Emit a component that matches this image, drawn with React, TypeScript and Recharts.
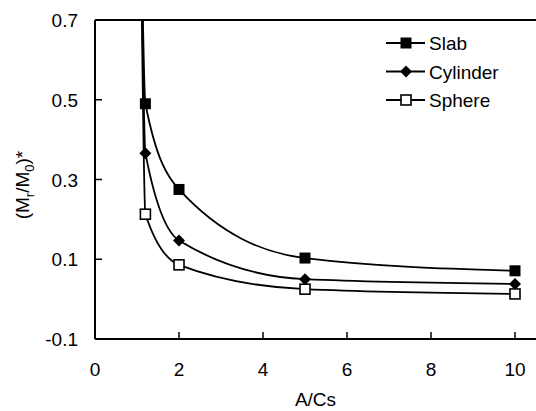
import React from 'react';
import { LineChart, Line, XAxis, YAxis, ReferenceLine, Label } from 'recharts';

// measured points (A/Cs)
const ratios = [1.2, 2, 5, 10];
const slab = [0.49, 0.275, 0.103, 0.071];
const cylinder = [0.366, 0.147, 0.05, 0.038];
const sphere = [0.213, 0.086, 0.025, 0.013];

// where each curve leaves the top of the plot
const leadX = 1.1;
const leadY = [0.95, 0.9, 0.85];

const xTicks = [0, 2, 4, 6, 8, 10];
const yTicks = [-0.1, 0.1, 0.3, 0.5, 0.7];

const FONT = '"Liberation Sans", Arial, sans-serif';
const FS = 19;

const build = (vals: number[], top: number) => [
    { x: leadX, y: top, lead: true },
    ...ratios.map((x, i) => ({ x, y: vals[i], lead: false })),
];

const series = [
    { name: 'Slab', data: build(slab, leadY[0]), shape: 'square' },
    { name: 'Cylinder', data: build(cylinder, leadY[1]), shape: 'diamond' },
    { name: 'Sphere', data: build(sphere, leadY[2]), shape: 'open' },
];

const Marker = ({ cx, cy, shape }: { cx: number; cy: number; shape: string }) => {
    if (shape === 'square') return <rect x={cx - 5.5} y={cy - 5.5} width={11} height={11} fill="#000" />;
    if (shape === 'diamond')
        return <polygon points={`${cx},${cy - 6} ${cx + 6},${cy} ${cx},${cy + 6} ${cx - 6},${cy}`} fill="#000" />;
    return <rect x={cx - 5} y={cy - 5} width={10} height={10} fill="#fff" stroke="#000" strokeWidth={1.6} />;
};

const XTick = (props: any) => {
    const { x, y, payload } = props;
    return (
        <g>
            <line x1={x} x2={x} y1={y - 12} y2={y - 19} stroke="#000" strokeWidth={1.5} />
            <text x={x} y={y + 25} textAnchor="middle" fontSize={FS} fontFamily={FONT} fill="#000">
                {payload.value}
            </text>
        </g>
    );
};

const YTick = (props: any) => {
    const { x, y, payload } = props;
    return (
        <g>
            <line x1={x + 12} x2={x + 19} y1={y} y2={y} stroke="#000" strokeWidth={1.5} />
            <text x={x - 5} y={y + 7} textAnchor="end" fontSize={FS} fontFamily={FONT} fill="#000">
                {Number(payload.value).toFixed(1)}
            </text>
        </g>
    );
};

const LegendBox = () => (
    <svg width={156} height={90} style={{ position: 'absolute', left: 380, top: 30 }}>
        {series.map((s, i) => {
            const y = 13 + i * 28.5;
            return (
                <g key={s.name}>
                    <line x1={6} x2={45} y1={y} y2={y} stroke="#000" strokeWidth={1.8} />
                    <Marker cx={26} cy={y} shape={s.shape} />
                    <text x={49} y={y + 7} fontSize={FS} fontFamily={FONT} fill="#000">
                        {s.name}
                    </text>
                </g>
            );
        })}
    </svg>
);

const YLabel = () => (
    <text
        transform="translate(29,185) rotate(-90)"
        textAnchor="middle"
        fontSize={FS}
        fontFamily={FONT}
        fill="#000"
    >
        (M<tspan fontSize={13} dy={5}>r</tspan>
        <tspan dy={-5}>/M</tspan>
        <tspan fontSize={13} dy={5}>0</tspan>
        <tspan dy={-5}>)*</tspan>
    </text>
);

export default function App() {
    return (
        <div style={{ position: 'absolute', left: 0, top: 0, width: 536, height: 411, background: '#fff' }}>
            <LineChart width={536} height={411} margin={{ top: 20, right: 0, bottom: 0, left: 0 }}>
                <XAxis
                    type="number"
                    dataKey="x"
                    domain={[0, 10.5]}
                    ticks={xTicks}
                    allowDataOverflow
                    height={72}
                    tickLine={false}
                    tickSize={0}
                    tickMargin={12}
                    tick={<XTick />}
                    axisLine={{ stroke: '#000', strokeWidth: 2 }}
                >
                    <Label value="A/Cs" position="insideBottom" offset={5} fontSize={FS} fontFamily={FONT} fill="#000" />
                </XAxis>
                <YAxis
                    type="number"
                    dataKey="y"
                    domain={[-0.1, 0.7]}
                    ticks={yTicks}
                    allowDataOverflow
                    width={95}
                    tickLine={false}
                    tickSize={0}
                    tickMargin={12}
                    tick={<YTick />}
                    axisLine={{ stroke: '#000', strokeWidth: 2 }}
                >
                    <Label content={<YLabel />} />
                </YAxis>
                <ReferenceLine y={0.7} stroke="#000" strokeWidth={2} />
                {series.map((s) => (
                    <Line
                        key={s.name}
                        data={s.data}
                        dataKey="y"
                        name={s.name}
                        type="monotone"
                        stroke="#000"
                        strokeWidth={1.8}
                        isAnimationActive={false}
                        activeDot={false}
                        dot={(p: any) =>
                            p.payload.lead ? <g key={p.index} /> : <Marker key={p.index} cx={p.cx} cy={p.cy} shape={s.shape} />
                        }
                    />
                ))}
            </LineChart>
            <LegendBox />
        </div>
    );
}
